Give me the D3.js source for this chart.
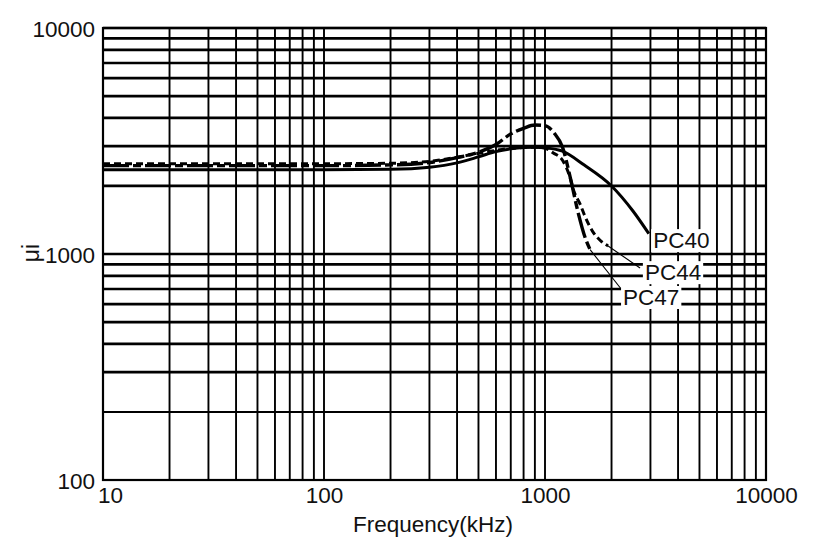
<!DOCTYPE html>
<html><head><meta charset="utf-8">
<script src="https://cdn.jsdelivr.net/npm/d3@7"></script>
<style>
body{margin:0;background:#fff}
text{font-family:"Liberation Sans",Arial,Helvetica,sans-serif;fill:#111}
</style>
</head><body>
<svg id="c" width="820" height="554"></svg>
<script>
// ---- data ----
const xTickLabels = [10, 100, 1000, 10000];
const yTickLabels = [100, 1000, 10000];

const pc40Freq = [10, 100, 200, 300, 400, 500, 600, 700, 800, 900, 1000, 1200, 1500, 2000, 2500, 2950];
const pc40Mu   = [2360, 2360, 2370, 2420, 2530, 2690, 2840, 2920, 2960, 2970, 2950, 2850, 2480, 2000, 1550, 1230];

const pc44Freq = [10, 100, 200, 300, 400, 500, 600, 700, 800, 900, 1000, 1090, 1200, 1300, 1345, 1440, 1520, 1650, 1775, 1930];
const pc44Mu   = [2510, 2510, 2520, 2570, 2680, 2790, 2875, 2935, 2960, 2970, 2940, 2800, 2600, 2170, 1920, 1665, 1460, 1250, 1150, 1085];

const pc47Freq = [10, 100, 200, 300, 400, 500, 600, 700, 800, 900, 1000, 1100, 1200, 1300, 1410, 1520, 1600];
const pc47Mu   = [2460, 2460, 2480, 2540, 2670, 2820, 3050, 3400, 3600, 3720, 3700, 3430, 2970, 2190, 1535, 1180, 1045];

const seriesNames = ["PC40", "PC44", "PC47"];
// label anchor (freq, mu) and leader start/end (freq, mu)
const labelPos = {PC40: [3085, 1153], PC44: [2831, 832], PC47: [2255, 646]};
const leaderFrom = {PC44: [1930, 1085], PC47: [1600, 1045]};
const leaderTo   = {PC44: [2692, 867],  PC47: [2230, 693]};

// ---- layout ----
const svg = d3.select("#c");
const L = 103, R = 766, T = 28, B = 480;
const x = d3.scaleLog().domain([10, 10000]).range([L, R]);
const y = d3.scaleLog().domain([100, 10000]).range([B, T]);

// grid
const g = svg.append("g");
g.selectAll("line.v").data(x.ticks()).join("line")
  .attr("x1", d => x(d)).attr("x2", d => x(d))
  .attr("y1", T).attr("y2", B)
  .attr("stroke", "#000").attr("stroke-width", 1.9);
g.selectAll("line.h").data(y.ticks()).join("line")
  .attr("x1", L).attr("x2", R)
  .attr("y1", d => y(d)).attr("y2", d => y(d))
  .attr("stroke", "#000")
  .attr("stroke-width", d => (d === 200 || d === 100) ? 2.0 : 2.7);
// frame
svg.append("rect").attr("x", L).attr("y", T).attr("width", R - L).attr("height", B - T)
  .attr("fill", "none").attr("stroke", "#000").attr("stroke-width", 2.2);

// axes
const xAxis = svg.append("g").attr("transform", `translate(0,${B})`)
  .call(d3.axisBottom(x).tickValues(xTickLabels).tickSize(0).tickPadding(0).tickFormat(d3.format("d")));
xAxis.select(".domain").remove();
xAxis.selectAll("text").attr("font-size", 22.5).attr("dy", "0").attr("y", 23)
  .attr("fill", "#111")
  .attr("dx", (d, i) => i === 0 ? 7 : 0);

const yAxis = svg.append("g").attr("transform", `translate(${L},0)`)
  .call(d3.axisLeft(y).tickValues(yTickLabels).tickSize(0).tickPadding(8).tickFormat(d3.format("d")));
yAxis.select(".domain").remove();
yAxis.selectAll("text").attr("font-size", 22.5).attr("fill", "#111").attr("dy", "0.36em");

// axis titles
svg.append("text").attr("x", 433).attr("y", 532).attr("text-anchor", "middle")
  .attr("font-size", 22.5).text("Frequency(kHz)");
svg.append("text").attr("transform", "translate(39,253) rotate(-90)")
  .attr("text-anchor", "middle").attr("font-size", 23).text("μi");

// curves
const line = d3.line().x(d => x(d[0])).y(d => y(d[1])).curve(d3.curveMonotoneX);
const zip = (a, b) => a.map((v, i) => [v, b[i]]);
const curves = [
  {name: "PC40", data: zip(pc40Freq, pc40Mu), dash: null, w: 3},
  {name: "PC47", data: zip(pc47Freq, pc47Mu), dash: "26,4,8,4", w: 3.4},
  {name: "PC44", data: zip(pc44Freq, pc44Mu), dash: "7,4", w: 3}
];
svg.append("g").selectAll("path").data(curves).join("path")
  .attr("d", d => line(d.data))
  .attr("fill", "none").attr("stroke", "#000")
  .attr("stroke-width", d => d.w)
  .attr("stroke-dasharray", d => d.dash);

// leaders
["PC44", "PC47"].forEach(n => {
  svg.append("line")
    .attr("x1", x(leaderFrom[n][0])).attr("y1", y(leaderFrom[n][1]))
    .attr("x2", x(leaderTo[n][0])).attr("y2", y(leaderTo[n][1]))
    .attr("stroke", "#000").attr("stroke-width", 1.1);
});

// labels with white background
seriesNames.forEach(n => {
  const lg = svg.append("g");
  const t = lg.append("text").attr("x", x(labelPos[n][0])).attr("y", y(labelPos[n][1]))
    .attr("dy", "0.36em").attr("font-size", 22.5).text(n);
  const bb = t.node().getBBox();
  lg.insert("rect", "text").attr("x", bb.x - 2).attr("y", bb.y + 1)
    .attr("width", bb.width + 4).attr("height", bb.height - 2).attr("fill", "#fff");
});
</script>
</body></html>
